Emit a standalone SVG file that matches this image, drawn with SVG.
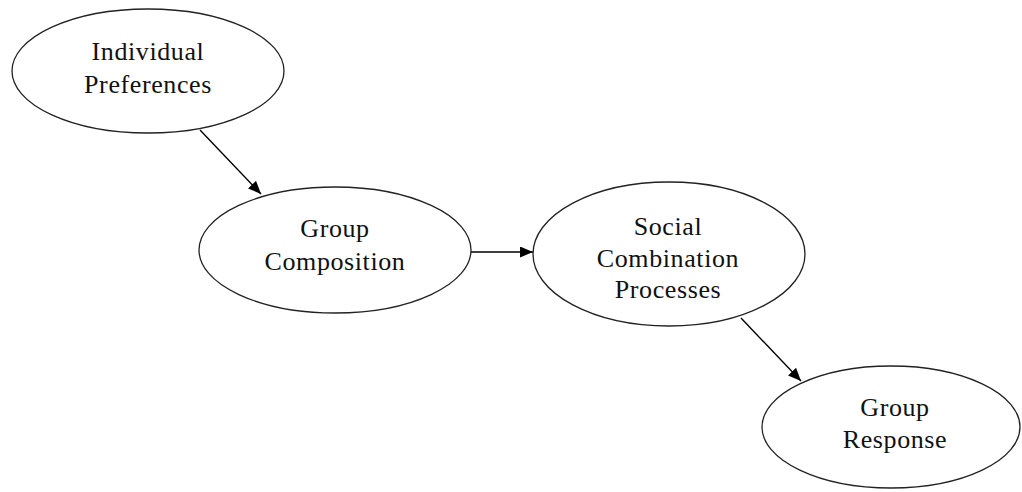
<svg xmlns="http://www.w3.org/2000/svg" width="1022" height="492" viewBox="0 0 1022 492">
  <style>
    .node ellipse { fill: #ffffff; stroke: #222222; stroke-width: 1.3; }
    .node text { font-family: "Liberation Serif", "Times New Roman", serif; font-size: 26px; letter-spacing: 0.6px; fill: #111111; text-anchor: middle; }
    .edge { stroke: #000000; stroke-width: 1.4; fill: none; marker-end: url(#arrow); }
  </style>
  <defs>
    <marker id="arrow" markerUnits="userSpaceOnUse" markerWidth="14" markerHeight="12" refX="13" refY="5.5" orient="auto">
      <path d="M0,0 L13,5.5 L0,11 z" fill="#000000"/>
    </marker>
  </defs>
  <rect width="1022" height="492" fill="#ffffff"/>

  <!-- connectors -->
  <g id="connectors">
    <line class="edge" x1="200" y1="130" x2="261" y2="194"/>
    <line class="edge" x1="471" y1="252" x2="533" y2="252"/>
    <line class="edge" x1="741" y1="318" x2="801" y2="381"/>
  </g>

  <!-- nodes -->
  <g id="individual-preferences" class="node">
    <ellipse cx="148" cy="71" rx="136" ry="62"/>
    <text x="148" y="60">Individual</text>
    <text x="148" y="93">Preferences</text>
  </g>
  <g id="group-composition" class="node">
    <ellipse cx="335" cy="250" rx="136" ry="63"/>
    <text x="335" y="237">Group</text>
    <text x="335" y="270">Composition</text>
  </g>
  <g id="social-combination-processes" class="node">
    <ellipse cx="669" cy="254" rx="136" ry="72"/>
    <text x="668" y="235">Social</text>
    <text x="668" y="267">Combination</text>
    <text x="668" y="298">Processes</text>
  </g>
  <g id="group-response" class="node">
    <ellipse cx="891" cy="427" rx="129" ry="61"/>
    <text x="895" y="416">Group</text>
    <text x="895" y="448">Response</text>
  </g>
</svg>
